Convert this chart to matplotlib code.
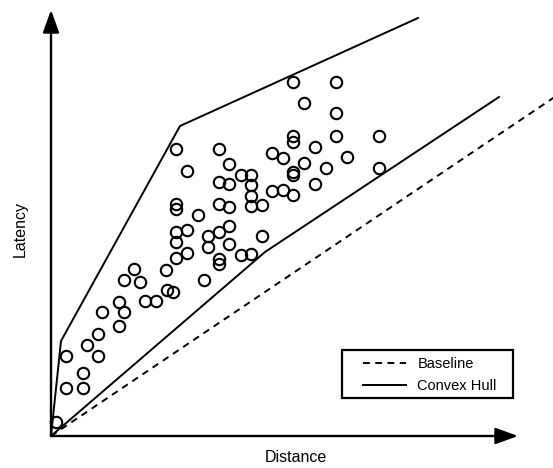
import matplotlib
matplotlib.use("Agg")
import matplotlib.pyplot as plt
from matplotlib.patches import Rectangle

plt.rcParams['font.family'] = ['Liberation Sans', 'DejaVu Sans']

# Scatter samples (distance, latency) in arbitrary units
dist = [5, 15, 32, 32, 15, 47, 36, 47, 68, 51, 73, 68, 94, 105, 116, 122, 73, 89, 83, 115,
        153, 125, 136, 168, 168, 125, 157, 178, 125, 136, 168, 157, 178, 147, 125, 125, 168, 178,
        168, 178, 136, 178, 125, 168, 242, 285, 253, 285, 242, 242, 285, 328, 264, 221, 232, 296,
        253, 275, 328, 242, 242, 190, 200, 200, 264, 221, 232, 242, 200, 200, 211, 211, 190, 200]
lat = [14, 48, 48, 63, 80, 80, 91, 102, 110, 124, 124, 134, 135, 135, 146, 144, 156, 154, 167, 166,
       156, 178, 183, 177, 172, 194, 189, 192, 204, 206, 204, 200, 210, 221, 232, 227, 232, 229,
       254, 252, 265, 272, 287, 287, 354, 354, 333, 323, 300, 294, 300, 300, 289, 283, 278, 279,
       273, 268, 268, 264, 261, 261, 261, 251, 252, 245, 246, 241, 240, 230, 231, 200, 181, 182]

# Convex hull boundaries
upper_x = [0, 10, 129, 367]
upper_y = [0, 95, 310, 418]
lower_x = [0, 214, 448]
lower_y = [0, 184, 339]
# Baseline
base_x = [0, 520]
base_y = [0, 350]

fig = plt.figure(figsize=(5.53, 4.68), dpi=100)
ax = fig.add_axes([0, 0, 1, 1])
ax.set_xlim(-51, 502)
ax.set_ylim(-32, 436)
ax.axis('off')

ax.plot(base_x, base_y, color='black', lw=1.4, linestyle=(0, (3.5, 2.8)), label='Baseline')
ax.plot(upper_x, upper_y, color='black', lw=1.4, label='Convex Hull')
ax.plot(lower_x, lower_y, color='black', lw=1.4)
ax.plot(dist, lat, linestyle='none', marker='o', markersize=8.2, markerfacecolor='none',
        markeredgecolor='black', markeredgewidth=1.5)

arrow = dict(arrowstyle='-|>,head_length=0.55,head_width=0.2', lw=1.7, color='black',
             mutation_scale=25, shrinkA=0, shrinkB=0)
ax.annotate('', xy=(467, 0), xytext=(0, 0), arrowprops=arrow)
ax.annotate('', xy=(0, 426), xytext=(0, 0), arrowprops=arrow)

ax.text(245, -22, 'Distance', ha='center', va='center', fontsize=11.5)
ax.text(-31, 207, 'Latency', ha='center', va='center', rotation=90, fontsize=11.5)

# legend frame
W, H = 553.0, 468.0
fig.patches.append(Rectangle((342 / W, 1 - 398 / H), 171 / W, 48 / H, transform=fig.transFigure,
                             fill=False, edgecolor='black', lw=1.6))
leg = ax.legend(loc='center', bbox_to_anchor=(430 / W, 1 - 375 / H), bbox_transform=fig.transFigure,
                frameon=False, fontsize=10.5, handlelength=2.9, handletextpad=0.8,
                labelspacing=0.5, borderpad=0.3)

fig.savefig('out.png', dpi=100)
